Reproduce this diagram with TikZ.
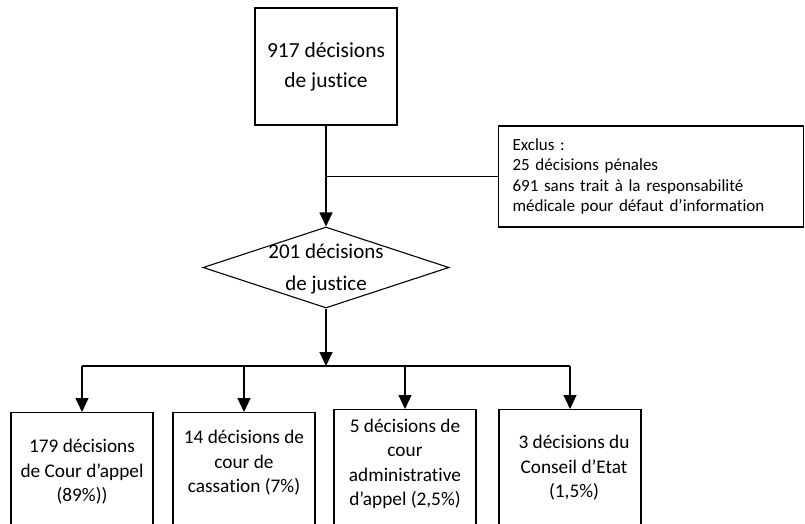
\documentclass[tikz,border=0pt]{standalone}
\usepackage{fontspec}
\setmainfont{Carlito}[Ligatures=NoCommon]
\usetikzlibrary{arrows.meta,shapes.geometric,positioning}

\begin{document}
\begin{tikzpicture}[x=1pt,y=-1pt,
  flux/.style={draw=black,line width=1.1pt},
  fleche/.style={flux,-{Triangle[width=13pt,length=14pt]}},
  boite/.style={draw=black,line width=1.1pt,inner sep=0pt,minimum width=142pt},
  losange/.style={diamond,draw=black,line width=1.1pt,inner sep=0pt,minimum width=246pt,minimum height=81pt},
  grand/.style={font=\fontsize{21.5}{30}\selectfont,align=center},
  petit/.style={font=\fontsize{17}{20.5}\selectfont,align=left},
  texte/.style={font=\fontsize{19.3}{24.5}\selectfont,align=center}]
\useasboundingbox (0,0) rectangle (805,524);
\clip (0,0) rectangle (805,524);
% haut
\node[boite,grand,minimum height=117pt] (total) at (326,66.5) {917 décisions\\de justice};
\node[boite,petit,anchor=west,inner xsep=14pt,text width=277pt,minimum height=101pt] (exclus) at (498,176.5)
  {Exclus :\\25 décisions pénales\\691 sans trait à la responsabilité\\médicale pour défaut d’information};
\node[losange] (retenues) at (326,267.5) {};
\node[grand,font=\fontsize{21}{32}\selectfont] (retenuest) at (326,269) {201 décisions\\de justice};
\draw[fleche] (total.south) -- (retenues.north);
\draw[flux] (total.south |- exclus.west) -- (exclus.west);
% bas
\node[boite,anchor=north,minimum height=140pt] (appel) at (82,412) {};
\node[boite,anchor=north,minimum height=140pt] (cassation) at (244,412) {};
\node[boite,anchor=north,minimum height=140pt] (admin) at (405,409) {};
\node[boite,anchor=north,minimum height=140pt] (etat) at (570,409) {};
\node[texte] (appelt) at (82,472) {179 décisions\\de Cour d’appel\\(89\%))};
\node[texte] (cassationt) at (244,463) {14 décisions de\\cour de\\cassation (7\%)};
\node[texte] (admint) at (405,464) {5 décisions de\\cour\\administrative\\d’appel (2,5\%)};
\node[texte] (etatt) at (574,468) {3 décisions du\\Conseil d’Etat\\(1,5\%)};
\coordinate (bus) at (326,366);
\draw[fleche] (retenues.south) -- (bus);
\draw[flux] (appel.north |- bus) -- (etat.north |- bus);
\foreach \b in {appel,cassation,admin,etat}
  \draw[fleche] (\b.north |- bus) -- (\b.north);
\end{tikzpicture}
\end{document}
